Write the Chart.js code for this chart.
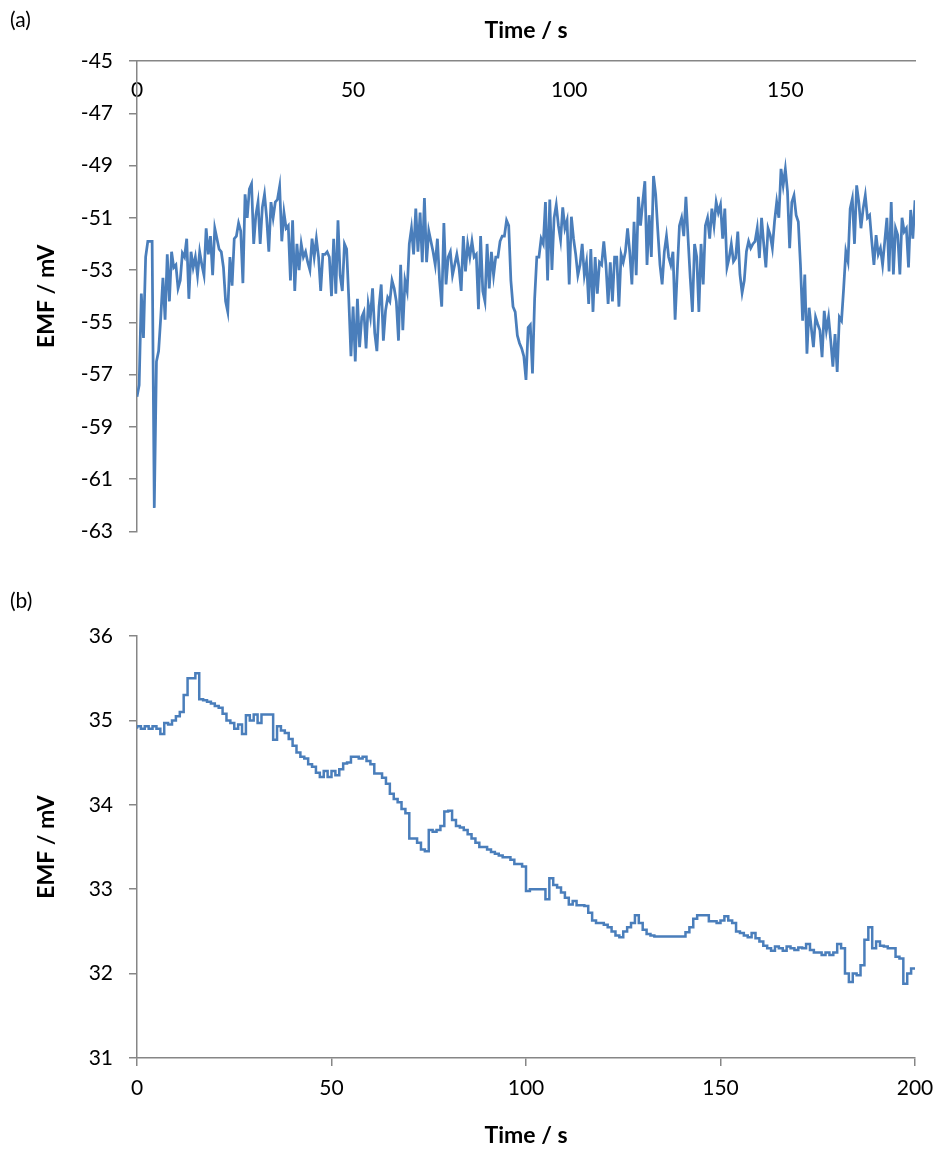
<!DOCTYPE html>
<html>
<head>
<meta charset="utf-8">
<script src="https://cdn.jsdelivr.net/npm/chart.js@4/dist/chart.umd.min.js"></script>
<style>
  html, body { margin: 0; padding: 0; background: #fff; }
  #wrap { position: relative; width: 949px; height: 1153px; }
  .box { position: absolute; left: 0; width: 949px; }
  .tag { position: absolute; left: 10px; font: 21px Lato, sans-serif; color: #000; }
</style>
</head>
<body>
<div id="wrap">
  <div class="box" style="top:0;height:560px"><canvas id="chartA"></canvas></div>
  <div class="box" style="top:570px;height:583px"><canvas id="chartB"></canvas></div>
  <div class="tag" style="top:6px">(a)</div>
  <div class="tag" style="top:587px">(b)</div>
</div>
<script>
// (a) EMF sampled every 0.5 s, 0..180 s
const emfA = [
  -57.85, -57.4, -53.9, -55.6, -52.5, -51.9, -51.9, -51.9, -62.1, -56.5,
  -56.1, -54.8, -53.3, -54.9, -52.4, -54.2, -52.3, -52.9, -52.8, -53.7,
  -53.4, -52.35, -52.5, -51.8, -54.1, -52.3, -52.9, -52.5, -53.2, -52.3,
  -52.8, -53.2, -51.4, -52.4, -51.7, -53.2, -51.4, -51.8, -52.2, -52.3,
  -52.9, -54.2, -54.6, -52.5, -53.6, -51.8, -51.7, -51.2, -51.5, -53.5,
  -50.1, -51.0, -49.9, -49.7, -52.0, -50.9, -50.4, -52.0, -50.6, -50.1,
  -51.0, -52.3, -50.4, -51.0, -50.4, -50.3, -49.8, -51.9, -50.8, -51.4,
  -51.3, -53.4, -51.1, -53.8, -52.0, -53.0, -52.0, -52.5, -52.3, -52.7,
  -53.0, -51.8, -52.5, -51.8, -52.5, -53.8, -52.4, -52.4, -52.3, -52.5,
  -54.0, -51.8, -53.9, -51.1, -53.2, -53.8, -52.0, -52.2, -54.1, -56.3,
  -54.4, -56.5, -54.1, -55.95, -54.8, -54.6, -56.0, -54.3, -54.8, -53.7,
  -55.4, -56.1, -54.4, -53.55, -55.7, -54.56, -54.05, -54.2, -53.4, -53.7,
  -54.2, -55.7, -52.8, -55.3, -53.4, -53.8, -52.0, -51.4, -52.4, -50.65,
  -52.3, -50.8, -52.7, -50.24, -52.7, -51.5, -51.9, -52.3, -52.8, -51.8,
  -53.4, -54.4, -51.2, -53.55, -52.5, -52.3, -53.2, -52.8, -52.4, -52.9,
  -53.8, -51.7, -53.05, -52.0, -52.5, -51.9, -52.5, -52.4, -54.5, -51.7,
  -53.8, -54.2, -52.0, -53.7, -52.3, -53.2, -52.5, -52.5, -51.9, -51.7,
  -51.7, -51.1, -51.3, -53.4, -54.4, -54.6, -55.5, -55.8, -56.0, -56.3,
  -57.2, -55.2, -55.1, -56.96, -54.1, -52.5, -52.5, -51.8, -52.0, -50.4,
  -53.4, -50.3, -53.0, -51.0, -50.5, -51.3, -51.85, -50.6, -51.4, -51.1,
  -53.55, -50.96, -51.8, -52.4, -53.2, -52.8, -52.0, -53.2, -52.7, -54.3,
  -52.2, -54.6, -52.5, -53.9, -52.7, -52.8, -51.9, -52.8, -54.3, -52.7,
  -54.2, -52.5, -52.5, -54.4, -52.4, -52.7, -52.3, -51.4, -52.3, -53.55,
  -51.15, -53.2, -50.2, -51.3, -50.4, -49.6, -52.8, -50.9, -52.5, -49.4,
  -50.1, -51.5, -52.8, -53.55, -52.3, -51.7, -52.5, -52.8, -52.3, -54.9,
  -53.05, -51.3, -51.0, -51.7, -50.2, -51.8, -53.3, -54.6, -52.0, -52.5,
  -54.6, -52.0, -53.55, -51.3, -51.0, -51.8, -50.65, -51.3, -50.4, -50.8,
  -50.5, -51.8, -50.65, -52.9, -52.54, -52.0, -52.67, -52.54, -51.53, -53.17,
  -53.87, -53.4, -52.29, -51.9, -52.16, -52.0, -51.9, -51.4, -52.54, -51.0,
  -52.0, -52.9, -51.4, -51.66, -52.16, -51.15, -50.4, -51.0, -49.13, -49.76,
  -49.13, -50.0, -52.16, -50.4, -50.14, -50.9, -51.15, -52.8, -54.94, -53.17,
  -56.2, -54.44, -55.2, -55.95, -54.8, -55.07, -55.3, -56.33, -54.56, -55.32,
  -54.8, -55.7, -56.7, -55.45, -56.9, -54.8, -54.94, -53.68, -52.29, -52.67,
  -50.65, -50.27, -52.0, -49.76, -50.4, -51.4, -50.65, -50.14, -51.0, -50.9,
  -51.9, -52.8, -51.66, -52.4, -52.16, -52.8, -51.9, -51.0, -53.05, -50.4,
  -53.17, -51.4, -51.66, -53.17, -51.0, -51.53, -51.4, -52.9, -50.7, -51.8,
  -50.33
];
const timesA = emfA.map((v, i) => i * 0.5);

// (b) EMF sampled every 1 s, 0..200 s
const emfB = [
  34.9, 34.93, 34.9, 34.93, 34.9, 34.93, 34.9, 34.84, 34.97, 34.95,
  35.0, 35.05, 35.1, 35.3, 35.5, 35.5, 35.56, 35.25, 35.24, 35.22,
  35.2, 35.17, 35.15, 35.08, 35.0, 34.97, 34.9, 34.95, 34.84, 35.06,
  35.0, 35.07, 34.97, 35.07, 35.07, 35.07, 34.77, 34.93, 34.88, 34.85,
  34.78, 34.7, 34.62, 34.57, 34.55, 34.48, 34.45, 34.38, 34.33, 34.4,
  34.33, 34.4, 34.35, 34.42, 34.49, 34.5, 34.57, 34.57, 34.55, 34.57,
  34.52, 34.48, 34.37, 34.37, 34.32, 34.25, 34.13, 34.07, 34.03, 33.95,
  33.9, 33.6, 33.6, 33.55, 33.47, 33.45, 33.7, 33.68, 33.7, 33.75,
  33.92, 33.93, 33.82, 33.75, 33.73, 33.7, 33.65, 33.6, 33.55, 33.5,
  33.5, 33.47, 33.44, 33.42, 33.4, 33.38, 33.38, 33.35, 33.3, 33.3,
  33.27, 32.98, 33.0, 33.0, 33.0, 33.0, 32.88, 33.13, 33.05, 33.02,
  32.96, 32.9, 32.82, 32.86, 32.81, 32.81, 32.8, 32.72, 32.63, 32.6,
  32.6, 32.58, 32.55, 32.5, 32.45, 32.43, 32.5, 32.55, 32.6, 32.69,
  32.6, 32.52, 32.47, 32.45, 32.44, 32.44, 32.44, 32.44, 32.44, 32.44,
  32.44, 32.44, 32.49, 32.55, 32.65, 32.69, 32.69, 32.69, 32.62, 32.62,
  32.6, 32.63, 32.68, 32.63, 32.6, 32.5, 32.48, 32.45, 32.43, 32.48,
  32.42, 32.38, 32.33, 32.3, 32.27, 32.32, 32.3, 32.27, 32.32, 32.3,
  32.28, 32.31, 32.3, 32.35, 32.28, 32.25, 32.25, 32.22, 32.25, 32.22,
  32.25, 32.35, 32.3, 32.0, 31.9, 32.0, 31.98, 32.1, 32.4, 32.55,
  32.3, 32.38, 32.33, 32.32, 32.3, 32.3, 32.2, 32.18, 31.88, 32.0,
  32.06
];
const timesB = emfB.map((v, i) => i);

const ticksA = { min: -63, max: -45, step: 2 };
const ticksB = { min: 31, max: 36, step: 1 };

Chart.defaults.font.family = 'Lato, "Open Sans", sans-serif';
Chart.defaults.color = '#000';

const lineBlue = '#4a7ebb';
const axisGrey = '#868686';
const tickFont = { size: 21 };
const titleFont = { size: 23, weight: 'bold' };

function yAxis(t) {
  return {
    min: t.min, max: t.max,
    ticks: { stepSize: t.step, padding: 16, font: tickFont, color: '#000' },
    grid: { drawOnChartArea: false, tickLength: 8, color: axisGrey, lineWidth: 1.5 },
    border: { color: axisGrey, width: 1.5 },
    title: { display: true, text: 'EMF / mV', font: titleFont, color: '#000', padding: { top: 33, bottom: 0 } },
    afterFit: s => { s.width = 137; }
  };
}

new Chart(document.getElementById('chartA'), {
  type: 'line',
  data: {
    datasets: [{
      data: timesA.map((t, i) => ({ x: t, y: emfA[i] })),
      borderColor: lineBlue,
      borderWidth: 2.75,
      pointRadius: 0,
      tension: 0
    }]
  },
  options: {
    responsive: true,
    maintainAspectRatio: false,
    animation: false,
    devicePixelRatio: 1,
    layout: { padding: { left: 0, right: 34, top: 0, bottom: 24 } },
    plugins: { legend: { display: false }, tooltip: { enabled: false } },
    scales: {
      x: {
        type: 'linear', position: 'top', min: 0, max: 180,
        // labels sit just under the top axis line, inside the plot
        ticks: { stepSize: 50, includeBounds: false, mirror: true, padding: 17, font: tickFont, color: '#000', maxRotation: 0 },
        grid: { display: false, drawTicks: false },
        border: { display: true, color: axisGrey, width: 1.5 },
        title: { display: true, text: 'Time / s', font: titleFont, color: '#000', padding: { top: 17, bottom: 0 } },
        afterFit: s => { s.height = 61; }
      },
      y: yAxis(ticksA)
    }
  }
});

new Chart(document.getElementById('chartB'), {
  type: 'line',
  data: {
    datasets: [{
      data: timesB.map((t, i) => ({ x: t, y: emfB[i] })),
      borderColor: lineBlue,
      borderWidth: 2.5,
      pointRadius: 0,
      stepped: 'after'
    }]
  },
  options: {
    responsive: true,
    maintainAspectRatio: false,
    animation: false,
    devicePixelRatio: 1,
    layout: { padding: { left: 0, right: 34, top: 66, bottom: 0 } },
    plugins: { legend: { display: false }, tooltip: { enabled: false } },
    scales: {
      x: {
        type: 'linear', position: 'bottom', min: 0, max: 200,
        ticks: { stepSize: 50, padding: 10, font: tickFont, color: '#000', maxRotation: 0 },
        grid: { drawOnChartArea: false, tickLength: 8, color: axisGrey, lineWidth: 1.5 },
        border: { color: axisGrey, width: 1.5 },
        title: { display: true, text: 'Time / s', font: titleFont, color: '#000', padding: { top: 0, bottom: 4 } },
        afterFit: s => { s.height = 95; }
      },
      y: yAxis(ticksB)
    }
  }
});
</script>
</body>
</html>
